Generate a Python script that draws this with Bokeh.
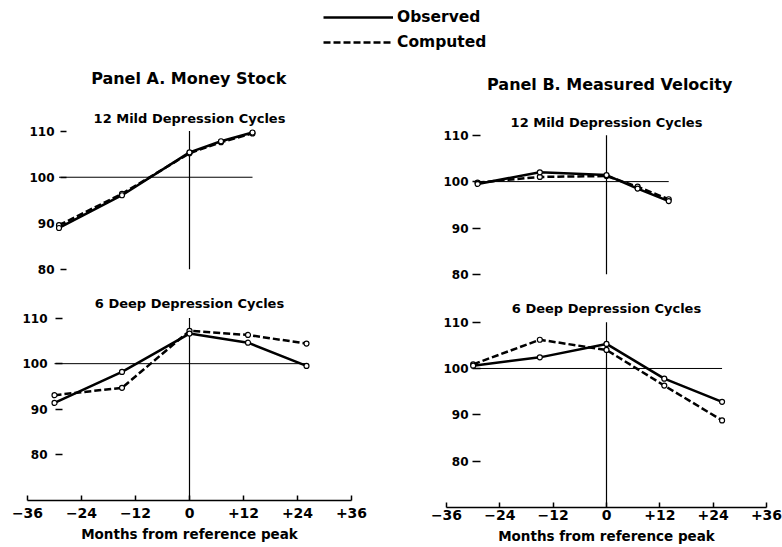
from bokeh.plotting import figure
from bokeh.layouts import column, row
from bokeh.models import Range1d, FixedTicker, Legend, LegendItem, Label
from bokeh.embed import file_html
from bokeh.resources import INLINE

FONT = "DejaVu Sans"

# ---------------- data ----------------
months_mild = [-29, -15, 0, 7, 14]
months_deep = [-30, -15, 0, 13, 26]

money_mild_observed = [89.0, 96.1, 105.4, 107.8, 109.7]
money_mild_computed = [89.6, 96.4, 105.2, 107.6, 109.5]
money_deep_observed = [91.4, 98.2, 106.6, 104.6, 99.5]
money_deep_computed = [93.1, 94.7, 107.2, 106.3, 104.4]

velocity_mild_observed = [99.5, 102.0, 101.4, 98.5, 95.8]
velocity_mild_computed = [99.8, 101.0, 101.2, 98.9, 96.2]
velocity_deep_observed = [100.6, 102.4, 105.3, 97.8, 92.8]
velocity_deep_computed = [100.9, 106.2, 104.0, 96.3, 88.8]

x_ticks = [-36, -24, -12, 0, 12, 24, 36]
x_tick_labels = ["\u221236", "\u221224", "\u221212", "0", "+12", "+24", "+36"]
y_ticks = [80, 90, 100, 110]
BASE = 100   # reference level (index = 100)
PEAK = 0     # reference peak month

panel_titles = ["Panel A.  Money Stock", "Panel B.  Measured Velocity"]
sub_titles = ["12 Mild Depression Cycles", "6 Deep Depression Cycles"]
series_names = ["Observed", "Computed"]
x_axis_title = "Months from reference peak"

DASH = "7 3"
LW = 2.5
NAN = float("nan")


def panel(months, obs, comp, subtitle, y_lo, frame_w, frame_h, borders, ytick, sub_standoff,
          bottom_axis=False, xlab_standoff=4, xtitle_standoff=3):
    left, right, top, bottom = borders
    p = figure(frame_width=frame_w, frame_height=frame_h,
               min_border_left=left, min_border_right=right,
               min_border_top=top, min_border_bottom=bottom,
               x_range=Range1d(-36, 36), y_range=Range1d(y_lo, 111),
               x_axis_location="below" if bottom_axis else None,
               output_backend="svg", toolbar_location=None, tools="")
    p.outline_line_color = None
    p.background_fill_color = "white"
    p.border_fill_color = "white"
    p.xgrid.visible = False
    p.ygrid.visible = False

    p.title.text = subtitle
    p.title.align = "center"
    p.title.text_font = FONT
    p.title.text_font_style = "bold"
    p.title.text_font_size = "13px"
    p.title.text_color = "black"
    p.title.standoff = sub_standoff

    # reference lines
    p.segment(x0=[months[0]], y0=[BASE], x1=[months[-1]], y1=[BASE],
              line_color="black", line_width=1)
    p.segment(x0=[PEAK], y0=[y_ticks[-1]], x1=[PEAK], y1=[y_lo],
              line_color="black", line_width=1.2)

    # series
    p.line(months, comp, line_color="black", line_width=LW, line_dash=DASH)
    p.line(months, obs, line_color="black", line_width=LW)
    p.scatter(months, comp, marker="circle", size=5, fill_color="white",
              line_color="black", line_width=1.2)
    p.scatter(months, obs, marker="circle", size=5, fill_color="white",
              line_color="black", line_width=1.2)

    tout, tin, stand = ytick
    ya = p.yaxis[0]
    ya.ticker = FixedTicker(ticks=y_ticks, minor_ticks=[])
    ya.axis_line_color = None
    ya.major_tick_out = tout
    ya.major_tick_in = tin
    ya.minor_tick_out = tout
    ya.minor_tick_in = 0
    ya.minor_tick_line_color = None
    ya.major_tick_line_width = 1.5
    ya.major_tick_line_color = "black"
    ya.major_label_standoff = stand
    ya.major_label_text_font = FONT
    ya.major_label_text_font_style = "bold"
    ya.major_label_text_font_size = "12px"
    ya.major_label_text_color = "black"

    if bottom_axis:
        xa = p.xaxis[0]
        xa.ticker = FixedTicker(ticks=x_ticks, minor_ticks=[])
        xa.major_label_overrides = dict(zip(x_ticks, x_tick_labels))
        xa.axis_line_width = 1.5
        xa.axis_line_color = "black"
        xa.major_tick_in = 5
        xa.major_tick_out = 0
        xa.major_tick_line_width = 1.5
        xa.minor_tick_line_color = None
        xa.major_label_standoff = xlab_standoff
        xa.major_label_text_font = FONT
        xa.major_label_text_font_style = "bold"
        xa.major_label_text_font_size = "14px"
        xa.major_label_text_color = "black"
        xa.axis_label = x_axis_title
        xa.axis_label_standoff = xtitle_standoff
        xa.axis_label_text_font = FONT
        xa.axis_label_text_font_style = "bold"
        xa.axis_label_text_font_size = "13.5px"
        xa.axis_label_text_color = "black"
    return p


# ---------------- header: legend + panel titles ----------------
HDR_H = 100
hdr = figure(frame_width=782, frame_height=HDR_H, x_range=Range1d(0, 1), y_range=Range1d(0, 1),
             min_border=0, x_axis_location=None, y_axis_location=None,
             output_backend="svg", toolbar_location=None, tools="")
hdr.outline_line_color = None
hdr.xgrid.visible = False
hdr.ygrid.visible = False
# legend samples only (no visible data)
r_obs = hdr.line(x=[NAN], y=[NAN], line_color="black", line_width=LW)
r_comp = hdr.line(x=[NAN], y=[NAN], line_color="black", line_width=LW, line_dash=DASH)
legend = Legend(items=[LegendItem(label=series_names[0], renderers=[r_obs]),
                       LegendItem(label=series_names[1], renderers=[r_comp])],
                location=(323, 49), orientation="vertical",
                glyph_width=70, glyph_height=18, label_height=18, spacing=7,
                padding=0, margin=0, label_standoff=4,
                border_line_color=None, background_fill_alpha=0,
                label_text_font=FONT, label_text_font_style="bold",
                label_text_font_size="15.5px", label_text_color="black")
hdr.add_layout(legend)
hdr.add_layout(Label(x=191, y=22, x_units="screen", y_units="screen", text=panel_titles[0],
                     text_align="center", text_baseline="alphabetic", text_font=FONT,
                     text_font_style="bold", text_font_size="16px", text_color="black"))
hdr.add_layout(Label(x=612, y=16, x_units="screen", y_units="screen", text=panel_titles[1],
                     text_align="center", text_baseline="alphabetic", text_font=FONT,
                     text_font_style="bold", text_font_size="16px", text_color="black"))

# ---------------- panels ----------------
topA = panel(months_mild, money_mild_observed, money_mild_computed, sub_titles[0],
             80, 324, 143, (27, 47, 26, 16), (-33, 39, -27), 2)
botA = panel(months_deep, money_deep_observed, money_deep_computed, sub_titles[1],
             70, 324, 187, (27, 47, 28, 45), (-28, 35, -20), 6, bottom_axis=True,
             xlab_standoff=7, xtitle_standoff=5)
topB = panel(months_mild, velocity_mild_observed, velocity_mild_computed, sub_titles[0],
             80, 320, 144, (48, 16, 30, 16), (-26, 34, -22), 2)
botB = panel(months_deep, velocity_deep_observed, velocity_deep_computed, sub_titles[1],
             70, 320, 190, (48, 16, 27, 39), (-26, 34, -22), 4, bottom_axis=True,
             xlab_standoff=2, xtitle_standoff=5)

layout = column(hdr, row(column(topA, botA), column(topB, botB)))

open("out.html", "w").write(file_html(layout, INLINE))
